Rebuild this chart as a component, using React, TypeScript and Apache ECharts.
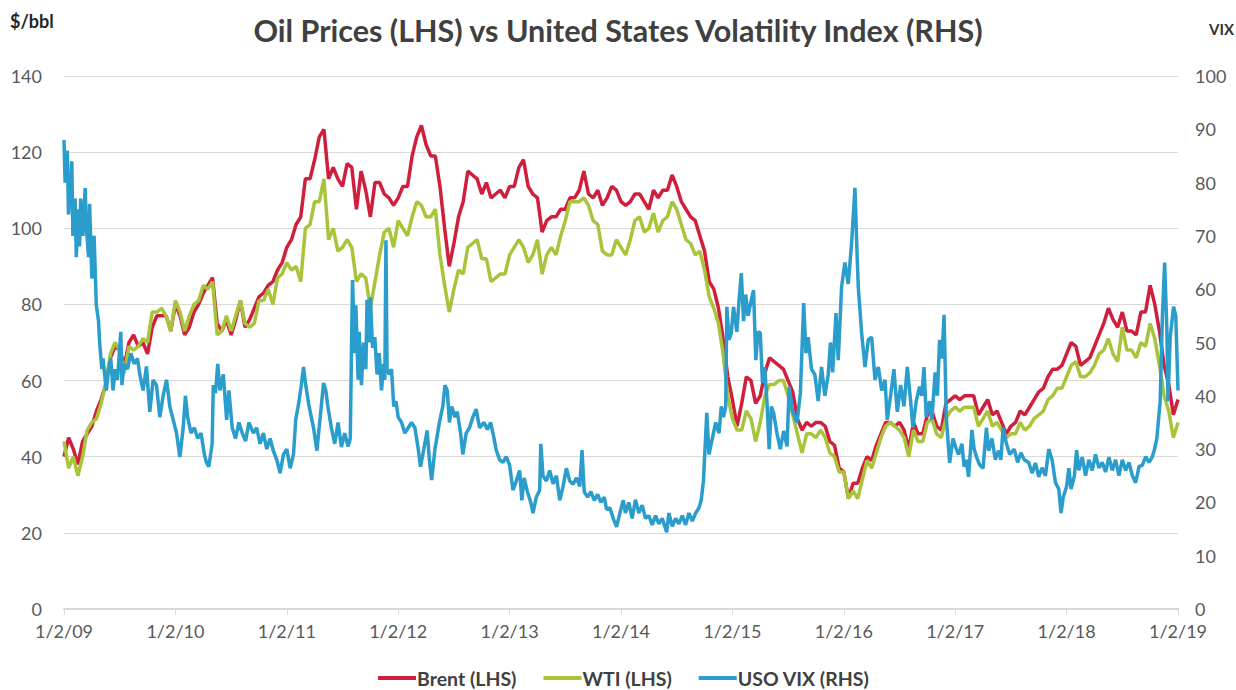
import React, { useEffect, useRef } from "react";
import * as echarts from "echarts";

const FONT = "Lato, 'Open Sans', sans-serif";

const titleText = "Oil Prices (LHS) vs United States Volatility Index (RHS)";
const leftUnit = "$/bbl";
const rightUnit = "VIX";
const xStartYear = 2009;
const xEndYear = 2019;
const samplesPerYear = 24;

// Brent, semi-monthly from 1/2/09 to 1/2/19
const brent: number[] = [
  40, 45, 42, 38, 44, 46, 48, 52, 55, 59, 66, 69, 68, 64, 70, 72, 69, 70, 67, 74, 77, 77, 77, 73,
  80, 77, 72, 74, 78, 80, 83, 85, 87, 75, 73, 76, 72, 76, 81, 74, 76, 79, 82, 83, 85, 86, 89, 91,
  95, 97, 101, 103, 113, 113, 118, 124, 126, 113, 116, 113, 111, 117, 116, 105, 115, 110, 103, 112, 112, 109, 108, 106,
  108, 111, 111, 119, 124, 127, 122, 119, 119, 111, 100, 90, 96, 103, 107, 115, 114, 113, 109, 112, 108, 109, 110, 108,
  111, 111, 116, 118, 111, 109, 108, 99, 102, 103, 103, 105, 105, 108, 108, 110, 115, 109, 108, 110, 106, 108, 111, 110,
  107, 106, 107, 109, 109, 107, 105, 110, 108, 110, 110, 114, 111, 107, 105, 103, 102, 98, 94, 86, 84, 79, 71, 61,
  55, 48, 54, 61, 60, 54, 56, 62, 66, 65, 64, 63, 60, 57, 50, 47, 49, 48, 49, 49, 48, 44, 43, 37,
  36, 29, 33, 33, 37, 40, 39, 43, 46, 49, 49, 48, 49, 47, 42, 49, 46, 46, 51, 52, 48, 47, 54, 55,
  56, 55, 56, 56, 56, 51, 53, 55, 51, 52, 49, 46, 48, 49, 52, 51, 53, 55, 57, 58, 61, 63, 63, 64,
  67, 70, 69, 64, 65, 66, 69, 72, 75, 79, 76, 74, 78, 73, 73, 72, 78, 78, 85, 80, 73, 64, 59, 51,
  55,
];

// WTI, semi-monthly from 1/2/09 to 1/2/19
const wti: number[] = [
  44, 37, 40, 35, 40, 47, 49, 50, 54, 59, 67, 70, 68, 62, 69, 68, 69, 71, 70, 78, 78, 79, 77, 73,
  81, 78, 73, 77, 80, 81, 85, 84, 86, 72, 73, 77, 73, 77, 81, 75, 74, 75, 81, 81, 84, 80, 87, 88,
  91, 89, 90, 86, 100, 101, 107, 107, 113, 97, 100, 94, 95, 97, 95, 86, 88, 87, 79, 86, 93, 99, 100, 95,
  102, 100, 98, 103, 107, 106, 103, 103, 105, 93, 85, 78, 84, 89, 88, 95, 96, 97, 92, 92, 86, 87, 88, 88,
  93, 95, 97, 95, 91, 93, 97, 88, 93, 95, 93, 98, 102, 107, 107, 107, 108, 106, 102, 101, 94, 93, 93, 97,
  95, 93, 97, 102, 103, 99, 100, 104, 99, 102, 103, 107, 105, 101, 97, 96, 93, 94, 89, 82, 79, 75, 67, 56,
  50, 47, 47, 52, 50, 44, 49, 56, 59, 59, 60, 60, 56, 51, 46, 41, 46, 46, 45, 47, 45, 41, 40, 36,
  36, 29, 31, 29, 34, 39, 37, 41, 45, 48, 49, 48, 47, 45, 40, 47, 44, 44, 49, 50, 46, 45, 50, 52,
  53, 52, 53, 53, 53, 48, 50, 52, 48, 49, 47, 45, 46, 46, 49, 47, 48, 50, 51, 52, 55, 56, 58, 58,
  61, 64, 65, 61, 61, 62, 64, 67, 68, 71, 67, 65, 74, 68, 68, 66, 70, 69, 75, 71, 64, 56, 52, 45,
  49,
];

// USO VIX: [date as decimal year, value]
const vix: [number, number][] = [
  [2009.0, 88], [2009.01, 80], [2009.03, 86], [2009.04, 74], [2009.06, 79], [2009.07, 84], [2009.08, 70],
  [2009.1, 77], [2009.11, 66], [2009.13, 75], [2009.14, 68], [2009.15, 77], [2009.17, 70], [2009.19, 79],
  [2009.2, 72], [2009.22, 66], [2009.23, 76], [2009.25, 62], [2009.27, 70], [2009.29, 57], [2009.31, 54],
  [2009.32, 50], [2009.34, 45], [2009.35, 47], [2009.38, 41], [2009.4, 45], [2009.42, 47], [2009.44, 41],
  [2009.46, 45], [2009.48, 43], [2009.51, 52], [2009.52, 42], [2009.54, 46], [2009.57, 45], [2009.6, 48],
  [2009.63, 46], [2009.66, 47], [2009.68, 44], [2009.71, 41], [2009.74, 45.5], [2009.77, 37], [2009.8, 43],
  [2009.83, 42], [2009.86, 36], [2009.89, 40], [2009.92, 43], [2009.95, 38], [2009.98, 35.5], [2010.01, 33],
  [2010.04, 28.5], [2010.07, 34], [2010.09, 40], [2010.11, 36], [2010.14, 33], [2010.17, 34], [2010.2, 32],
  [2010.23, 33], [2010.26, 29], [2010.28, 27.4], [2010.3, 26.7], [2010.33, 31], [2010.34, 42], [2010.36, 40.5],
  [2010.38, 46], [2010.4, 41], [2010.43, 44], [2010.46, 35.5], [2010.48, 41], [2010.51, 34], [2010.54, 32],
  [2010.57, 35], [2010.6, 33], [2010.63, 31.5], [2010.66, 35], [2010.7, 33], [2010.73, 34], [2010.76, 31],
  [2010.79, 33], [2010.82, 30], [2010.85, 32], [2010.88, 29.6], [2010.91, 28], [2010.94, 25.5], [2010.97, 29],
  [2011.0, 30], [2011.03, 26.4], [2011.06, 29], [2011.08, 35.5], [2011.11, 39], [2011.13, 42], [2011.15, 45.4],
  [2011.17, 42], [2011.2, 38], [2011.24, 34], [2011.27, 29.7], [2011.3, 36], [2011.33, 42.4], [2011.35, 41],
  [2011.37, 37.8], [2011.4, 34], [2011.43, 31], [2011.46, 35], [2011.49, 30.4], [2011.52, 33], [2011.55, 30.5],
  [2011.57, 32], [2011.58, 48], [2011.59, 61.7], [2011.61, 48], [2011.62, 57], [2011.64, 43], [2011.65, 52],
  [2011.67, 42], [2011.69, 50], [2011.71, 45], [2011.72, 58], [2011.74, 50], [2011.75, 58.5], [2011.77, 49],
  [2011.79, 51], [2011.81, 44], [2011.83, 48], [2011.85, 41], [2011.87, 46], [2011.88, 43], [2011.89, 69.2],
  [2011.9, 45], [2011.92, 44], [2011.94, 45], [2011.96, 38], [2011.98, 39], [2012.0, 36], [2012.03, 35],
  [2012.06, 33], [2012.09, 34], [2012.12, 35], [2012.15, 34], [2012.18, 30], [2012.2, 26.7], [2012.23, 30],
  [2012.26, 33.5], [2012.28, 28], [2012.3, 24.2], [2012.33, 30], [2012.37, 35], [2012.4, 38], [2012.42, 42],
  [2012.44, 41], [2012.46, 35], [2012.48, 38], [2012.51, 36], [2012.53, 37], [2012.56, 33], [2012.58, 29],
  [2012.61, 33], [2012.64, 34], [2012.67, 36], [2012.7, 37.5], [2012.73, 34], [2012.77, 35], [2012.8, 33.7],
  [2012.83, 35], [2012.86, 32], [2012.88, 29.8], [2012.91, 28], [2012.94, 27.5], [2012.97, 28.6], [2013.0, 27],
  [2013.03, 22.3], [2013.06, 24], [2013.09, 26], [2013.11, 20.4], [2013.13, 24.6], [2013.16, 22], [2013.19, 20],
  [2013.21, 18], [2013.24, 21], [2013.27, 22.3], [2013.28, 31], [2013.3, 25], [2013.33, 24], [2013.36, 26],
  [2013.39, 23.5], [2013.42, 25], [2013.45, 20.4], [2013.48, 23], [2013.51, 26.4], [2013.54, 24], [2013.57, 23.4],
  [2013.6, 24.6], [2013.63, 23], [2013.65, 29.8], [2013.67, 22], [2013.7, 21], [2013.73, 22], [2013.76, 20.4],
  [2013.79, 21.5], [2013.82, 20], [2013.85, 21], [2013.87, 18.7], [2013.9, 19], [2013.93, 17], [2013.96, 15.4],
  [2013.99, 18], [2014.02, 20.4], [2014.04, 18], [2014.07, 20], [2014.1, 17], [2014.13, 20.5], [2014.16, 18],
  [2014.19, 19.5], [2014.22, 17], [2014.25, 17.5], [2014.28, 15.8], [2014.31, 17.5], [2014.34, 16], [2014.37, 17],
  [2014.41, 14.4], [2014.43, 18], [2014.46, 15.5], [2014.49, 17], [2014.52, 16], [2014.55, 17.5], [2014.58, 15.8],
  [2014.61, 18], [2014.64, 16.5], [2014.67, 18], [2014.7, 19], [2014.72, 20.4], [2014.74, 24], [2014.77, 36.8],
  [2014.79, 29], [2014.82, 32], [2014.85, 35], [2014.88, 33], [2014.9, 38], [2014.92, 36], [2014.94, 38],
  [2014.95, 56.7], [2014.97, 50.5], [2014.99, 51.8], [2015.01, 56.7], [2015.04, 52], [2015.06, 58], [2015.08, 63],
  [2015.1, 54], [2015.12, 59], [2015.14, 55], [2015.17, 58], [2015.19, 59.8], [2015.21, 46.7], [2015.23, 52],
  [2015.25, 51.8], [2015.27, 42.4], [2015.29, 45.4], [2015.31, 39], [2015.33, 30], [2015.35, 38], [2015.37, 36.8],
  [2015.4, 33], [2015.43, 30], [2015.46, 33.4], [2015.49, 30.5], [2015.51, 41.7], [2015.54, 37], [2015.58, 35],
  [2015.61, 40.5], [2015.64, 57.4], [2015.66, 48], [2015.68, 51], [2015.71, 45], [2015.74, 44], [2015.77, 39],
  [2015.8, 45.4], [2015.83, 40], [2015.86, 44], [2015.88, 50], [2015.9, 44.4], [2015.93, 55.5], [2015.95, 46.7],
  [2015.98, 60.4], [2016.01, 65], [2016.04, 61], [2016.07, 68.6], [2016.1, 79], [2016.12, 66], [2016.13, 60.4],
  [2016.16, 51.8], [2016.19, 45.4], [2016.22, 50.5], [2016.25, 51], [2016.28, 43], [2016.31, 45.4], [2016.34, 41],
  [2016.37, 43], [2016.39, 35.5], [2016.42, 40], [2016.45, 45], [2016.48, 37], [2016.51, 42], [2016.54, 38],
  [2016.57, 45.4], [2016.6, 39], [2016.62, 34], [2016.65, 39], [2016.68, 41.7], [2016.7, 40], [2016.72, 45.4],
  [2016.74, 36], [2016.77, 39], [2016.79, 35.5], [2016.82, 44.4], [2016.84, 40], [2016.86, 50.5], [2016.88, 47],
  [2016.9, 55.2], [2016.92, 36], [2016.95, 27.4], [2016.98, 32], [2017.01, 30], [2017.03, 29], [2017.06, 31],
  [2017.08, 26.7], [2017.1, 28], [2017.12, 24.8], [2017.15, 33.6], [2017.17, 30], [2017.19, 28.6], [2017.22, 27],
  [2017.25, 26.4], [2017.28, 34], [2017.3, 29.7], [2017.33, 32], [2017.36, 28], [2017.39, 29.7], [2017.41, 28],
  [2017.43, 34], [2017.46, 31], [2017.49, 29], [2017.53, 30], [2017.56, 27.5], [2017.59, 29.3], [2017.62, 28],
  [2017.66, 27.5], [2017.69, 25.5], [2017.72, 27.4], [2017.75, 24.8], [2017.78, 26.5], [2017.81, 25], [2017.84, 30],
  [2017.87, 28], [2017.9, 23.7], [2017.93, 22.5], [2017.95, 18], [2017.97, 21], [2018.0, 23], [2018.02, 26.4],
  [2018.04, 22.5], [2018.07, 25], [2018.09, 29.8], [2018.11, 26], [2018.14, 28.5], [2018.17, 25], [2018.2, 28],
  [2018.23, 26], [2018.26, 29], [2018.29, 26.5], [2018.32, 27.5], [2018.35, 25.7], [2018.38, 28.5], [2018.41, 26],
  [2018.44, 28], [2018.47, 25], [2018.5, 28], [2018.53, 26], [2018.56, 27.5], [2018.59, 25], [2018.62, 23.7],
  [2018.65, 26.7], [2018.68, 27], [2018.71, 28.6], [2018.74, 27.5], [2018.77, 28.6], [2018.79, 30], [2018.81, 32],
  [2018.84, 39], [2018.86, 55], [2018.88, 65], [2018.9, 52.5], [2018.91, 39], [2018.93, 51], [2018.96, 56.7],
  [2018.98, 55], [2019.0, 41],
];

const seriesNames = ["Brent (LHS)", "WTI (LHS)", "USO VIX (RHS)"];
const seriesColors = ["#d01f3c", "#a8c43a", "#2a9dcc"];

const toPairs = (vals: number[]) =>
  vals.map((v, i) => [xStartYear + i / samplesPerYear, v]);

export default function App() {
  const ref = useRef<HTMLDivElement>(null);
  useEffect(() => {
    if (!ref.current) return;
    const chart = echarts.init(ref.current, null, { renderer: "svg" });
    chart.setOption({
      animation: false,
      backgroundColor: "#ffffff",
      textStyle: { fontFamily: FONT },
      title: {
        text: titleText,
        left: "center",
        top: 9,
        textStyle: { fontFamily: FONT, fontSize: 30.5, fontWeight: "bold", color: "#404040" },
      },
      graphic: [
        {
          type: "text",
          left: 10,
          top: 12,
          style: { text: leftUnit, font: `bold 18px ${FONT}`, fill: "#262626" },
        },
        {
          type: "text",
          right: 2,
          top: 21,
          style: { text: rightUnit, font: `bold 15px ${FONT}`, fill: "#333333" },
        },
      ],
      legend: {
        bottom: 0,
        left: 373,
        padding: [5, 5, 2, 5],
        icon: "rect",
        itemWidth: 38,
        itemHeight: 4,
        itemGap: 27,
        textStyle: { fontFamily: FONT, fontSize: 19.5, fontWeight: "bold", color: "#404040", padding: [0, 0, 0, -4] },
        data: seriesNames,
      },
      grid: { left: 64, right: 58, top: 76, bottom: 81 },
      xAxis: {
        type: "value",
        min: xStartYear,
        max: xEndYear,
        interval: 1,
        axisLine: { show: true, lineStyle: { color: "#d9d9d9", width: 2 } },
        axisTick: { show: true, length: 6, lineStyle: { color: "#d9d9d9", width: 1 } },
        splitLine: { show: false },
        axisLabel: {
          margin: 13,
          fontSize: 18,
          color: "#595959",
          fontFamily: FONT,
          formatter: (v: number) => `1/2/${String(Math.round(v) % 100).padStart(2, "0")}`,
        },
      },
      yAxis: [
        {
          type: "value",
          min: 0,
          max: 140,
          interval: 20,
          axisLine: { show: false },
          axisTick: { show: false },
          splitLine: { show: true, lineStyle: { color: "#d9d9d9", width: 1 } },
          axisLabel: { margin: 22, fontSize: 18, color: "#595959", fontFamily: FONT },
        },
        {
          type: "value",
          min: 0,
          max: 100,
          interval: 10,
          axisLine: { show: false },
          axisTick: { show: false },
          splitLine: { show: false },
          axisLabel: { margin: 17, fontSize: 18, color: "#595959", fontFamily: FONT, align: "left" },
        },
      ],
      series: [
        {
          name: seriesNames[0],
          type: "line",
          yAxisIndex: 0,
          data: toPairs(brent),
          showSymbol: false,
          symbol: "none",
          color: seriesColors[0],
          lineStyle: { width: 3.5, color: seriesColors[0] },
        },
        {
          name: seriesNames[1],
          type: "line",
          yAxisIndex: 0,
          data: toPairs(wti),
          showSymbol: false,
          symbol: "none",
          color: seriesColors[1],
          lineStyle: { width: 3.5, color: seriesColors[1] },
        },
        {
          name: seriesNames[2],
          type: "line",
          yAxisIndex: 1,
          data: vix,
          showSymbol: false,
          symbol: "none",
          color: seriesColors[2],
          lineStyle: { width: 3.5, color: seriesColors[2] },
        },
      ],
    });
    return () => chart.dispose();
  }, []);
  return (
    <div
      ref={ref}
      style={{ position: "fixed", left: 0, top: 0, width: 1236, height: 690, background: "#fff" }}
    />
  );
}
